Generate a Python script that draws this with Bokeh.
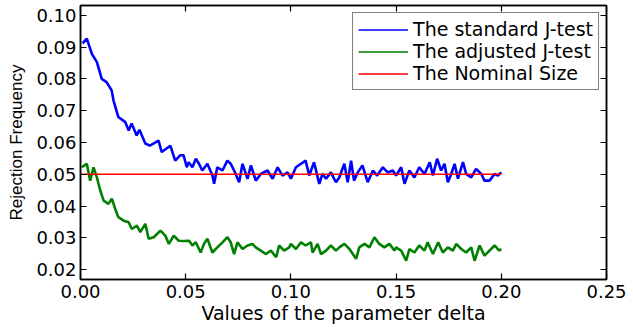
from bokeh.plotting import figure
from bokeh.models import (LinearAxis, FixedTicker, NumeralTickFormatter, Legend,
                          LegendItem, Range1d)
from bokeh.embed import file_html
from bokeh.resources import INLINE

# ---- data ----
standard_x = [0.001, 0.003, 0.0054, 0.0078, 0.0101, 0.0124, 0.0148, 0.0157, 0.018, 0.0213,
              0.0229, 0.0243, 0.0267, 0.028, 0.0308, 0.033, 0.0371, 0.0386, 0.0427, 0.045,
              0.0475, 0.049, 0.0505, 0.0514, 0.0532, 0.0548, 0.0563, 0.0579, 0.0603, 0.0627,
              0.0635, 0.065, 0.0675, 0.0698, 0.0714, 0.073, 0.0754, 0.077, 0.0794, 0.081,
              0.0833, 0.0857, 0.0889, 0.0913, 0.0937, 0.096, 0.0984, 0.1, 0.1024, 0.1048,
              0.107, 0.1087, 0.111, 0.1135, 0.115, 0.1167, 0.119, 0.1214, 0.123, 0.1254,
              0.127, 0.1286, 0.130, 0.1318, 0.134, 0.1365, 0.139, 0.141, 0.1437, 0.146,
              0.1484, 0.15, 0.1524, 0.154, 0.1563, 0.1587, 0.161, 0.1635, 0.166, 0.1675,
              0.1695, 0.1714, 0.173, 0.1746, 0.1762, 0.1778, 0.1794, 0.1818, 0.1833, 0.1857,
              0.188, 0.1905, 0.192, 0.1944, 0.1968, 0.1984, 0.2]
standard_y = [0.0912, 0.0927, 0.0879, 0.0853, 0.0800, 0.0790, 0.0764, 0.0732, 0.0680, 0.0664,
              0.0638, 0.0660, 0.0622, 0.0640, 0.0597, 0.0590, 0.0606, 0.0570, 0.0590, 0.0543,
              0.0560, 0.0560, 0.0522, 0.0538, 0.0522, 0.0549, 0.0533, 0.0512, 0.0533, 0.0496,
              0.0470, 0.0522, 0.0512, 0.0543, 0.0533, 0.0512, 0.0475, 0.0533, 0.0486, 0.0528,
              0.0480, 0.0501, 0.0512, 0.0486, 0.0522, 0.0496, 0.0506, 0.0486, 0.0522, 0.0533,
              0.0543, 0.0496, 0.0538, 0.0470, 0.0501, 0.0486, 0.0506, 0.0475, 0.0490, 0.0533,
              0.0475, 0.0543, 0.0480, 0.0506, 0.0528, 0.0475, 0.0512, 0.0496, 0.0522, 0.0506,
              0.0512, 0.0496, 0.0522, 0.0470, 0.0512, 0.0490, 0.0522, 0.0501, 0.0538, 0.0496,
              0.0549, 0.0512, 0.0533, 0.0475, 0.0501, 0.0533, 0.0486, 0.0538, 0.0501, 0.0490,
              0.0517, 0.0501, 0.0480, 0.0480, 0.0501, 0.0496, 0.0506]

adjusted_x = [0.0006, 0.003, 0.0046, 0.0062, 0.0078, 0.0094, 0.011, 0.0133, 0.0149, 0.0165,
              0.018, 0.0205, 0.0229, 0.0244, 0.0268, 0.0284, 0.0308, 0.0324, 0.0348, 0.038,
              0.0403, 0.042, 0.0443, 0.0467, 0.049, 0.0516, 0.0532, 0.0548, 0.0571, 0.0587,
              0.0603, 0.0627, 0.065, 0.0675, 0.0698, 0.0714, 0.073, 0.0746, 0.077, 0.0794,
              0.0817, 0.0833, 0.0857, 0.088, 0.0905, 0.093, 0.0944, 0.0968, 0.0992, 0.1,
              0.1024, 0.1048, 0.107, 0.1095, 0.1103, 0.1127, 0.1143, 0.1167, 0.119, 0.1214,
              0.123, 0.1254, 0.1278, 0.131, 0.1325, 0.135, 0.1373, 0.1397, 0.142, 0.1444,
              0.1468, 0.1492, 0.15, 0.1524, 0.1548, 0.1563, 0.1587, 0.161, 0.1635, 0.165,
              0.1675, 0.17, 0.1722, 0.1746, 0.177, 0.1786, 0.181, 0.1833, 0.1857, 0.1873,
              0.1897, 0.192, 0.1944, 0.1968, 0.199, 0.2]
adjusted_y = [0.0522, 0.0533, 0.0480, 0.0522, 0.0490, 0.0449, 0.0417, 0.0407, 0.0423, 0.0391,
              0.0365, 0.0354, 0.0349, 0.0328, 0.0339, 0.0318, 0.0344, 0.0297, 0.0302, 0.0323,
              0.0307, 0.0281, 0.0307, 0.0291, 0.0290, 0.0291, 0.0276, 0.0286, 0.0254, 0.0281,
              0.0297, 0.0254, 0.0270, 0.0286, 0.0302, 0.0286, 0.0249, 0.0286, 0.0265, 0.0276,
              0.0281, 0.0270, 0.0260, 0.0249, 0.0260, 0.0239, 0.0276, 0.0260, 0.0270, 0.0281,
              0.0265, 0.0286, 0.0276, 0.0286, 0.0254, 0.0281, 0.0249, 0.0260, 0.0276, 0.0260,
              0.0270, 0.0281, 0.0265, 0.0234, 0.0270, 0.0281, 0.0270, 0.0302, 0.0281, 0.0270,
              0.0281, 0.0260, 0.0270, 0.0260, 0.0228, 0.0265, 0.0254, 0.0276, 0.0260, 0.0286,
              0.0249, 0.0286, 0.0254, 0.0270, 0.0260, 0.0281, 0.0265, 0.0254, 0.0270, 0.0228,
              0.0276, 0.0244, 0.0260, 0.0276, 0.0260, 0.0265]

nominal_x = [0.0, 0.2]
nominal_y = [0.05, 0.05]

x_ticks = [0.00, 0.05, 0.10, 0.15, 0.20, 0.25]
y_ticks = [0.02, 0.03, 0.04, 0.05, 0.06, 0.07, 0.08, 0.09, 0.10]

labels = ["The standard J-test", "The adjusted J-test", "The Nominal Size"]
colors = ["#0000ff", "#008000", "#ff0000"]

FONT = "DejaVu Sans"
NAN = float("nan")

p = figure(width=633, height=330, output_backend="svg", toolbar_location=None,
           x_range=Range1d(0, 0.25), y_range=Range1d(0.0169, 0.1031),
           min_border_left=80, min_border_right=27, min_border_top=5, min_border_bottom=51)
p.background_fill_color = "white"
p.border_fill_color = "white"
p.grid.visible = False
p.outline_line_color = "black"
p.outline_line_width = 1.5

p.line(standard_x, standard_y, line_color=colors[0], line_width=2.6)
p.line(adjusted_x, adjusted_y, line_color=colors[1], line_width=2.6)
p.line(nominal_x, nominal_y, line_color=colors[2], line_width=1.6)

# thin legend-only proxies (legend swatches in the reference are thin lines)
k1 = p.line([NAN], [NAN], line_color=colors[0], line_width=1.3)
k2 = p.line([NAN], [NAN], line_color=colors[1], line_width=1.3)
k3 = p.line([NAN], [NAN], line_color=colors[2], line_width=1.3)

for ax in (p.xaxis[0], p.yaxis[0]):
    ax.major_tick_in = 6
    ax.major_tick_out = 0
    ax.minor_tick_in = 0
    ax.minor_tick_out = 0
    ax.axis_line_color = "black"
    ax.axis_line_width = 1.5
    ax.major_tick_line_width = 1.2
    ax.major_label_text_font = FONT
    ax.major_label_text_font_size = "18px"
    ax.major_label_text_color = "black"
    ax.axis_label_text_font_style = "normal"
    ax.axis_label_text_color = "black"

p.xaxis[0].ticker = FixedTicker(ticks=x_ticks)
p.yaxis[0].ticker = FixedTicker(ticks=y_ticks)
p.xaxis[0].formatter = NumeralTickFormatter(format="0.00")
p.yaxis[0].formatter = NumeralTickFormatter(format="0.00")
p.xaxis[0].major_label_standoff = 5
p.yaxis[0].major_label_standoff = 4

p.xaxis[0].axis_label = "Values of the parameter delta"
p.xaxis[0].axis_label_text_font = FONT
p.xaxis[0].axis_label_text_font_size = "19px"
p.xaxis[0].axis_label_standoff = 1

p.yaxis[0].axis_label = "Rejection Frequency"
p.yaxis[0].axis_label_text_font = "Liberation Sans"
p.yaxis[0].axis_label_text_font_size = "17px"
p.yaxis[0].axis_label_standoff = 7

# mirrored axes (ticks only)
top = LinearAxis(ticker=FixedTicker(ticks=x_ticks), major_label_text_color=None,
                 major_tick_in=6, major_tick_out=0, minor_tick_in=0, minor_tick_out=0,
                 axis_line_color="black", axis_line_width=1.5, major_tick_line_width=1.2)
right = LinearAxis(ticker=FixedTicker(ticks=y_ticks), major_label_text_color=None,
                   major_tick_in=6, major_tick_out=0, minor_tick_in=0, minor_tick_out=0,
                   axis_line_color="black", axis_line_width=1.5, major_tick_line_width=1.2)
p.add_layout(top, "above")
p.add_layout(right, "right")

legend = Legend(items=[LegendItem(label=labels[0], renderers=[k1]),
                       LegendItem(label=labels[1], renderers=[k2]),
                       LegendItem(label=labels[2], renderers=[k3])],
                location="top_right")
legend.label_text_font = FONT
legend.label_text_font_size = "19px"
legend.label_text_color = "black"
legend.glyph_width = 50
legend.glyph_height = 19
legend.label_height = 19
legend.spacing = 0
legend.padding = 5
legend.margin = 7
legend.label_standoff = 5
legend.border_line_color = "black"
legend.border_line_width = 1.5
legend.background_fill_alpha = 1.0
p.add_layout(legend)

open("out.html", "w").write(file_html(p, INLINE))
